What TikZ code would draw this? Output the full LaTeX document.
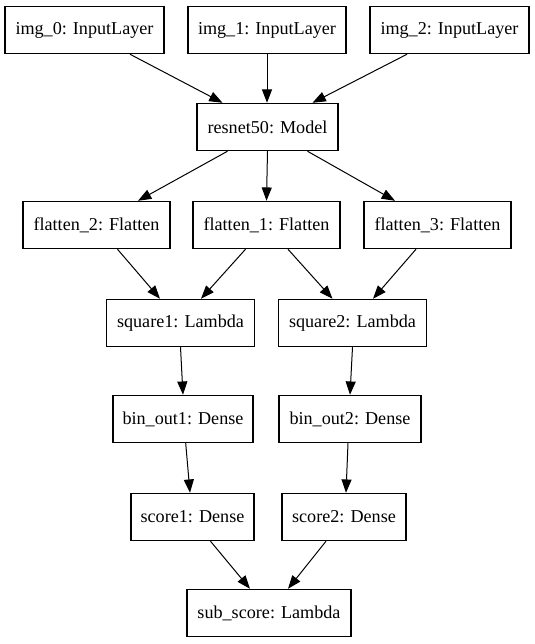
\documentclass[tikz,border=0pt]{standalone}
\usepackage{fontspec}
\setmainfont{Liberation Serif}
\usetikzlibrary{arrows.meta}
\tikzset{
  layer/.style={draw, line width=0.95pt, inner sep=0pt, minimum height=35.4pt,
    font=\fontsize{13.6}{16}\selectfont},
  w/.style={minimum width=#1*0.75pt},
  edge/.style={draw, line width=0.75pt, -{Triangle[length=10pt,width=7.5pt]}}
}
\begin{document}
\begin{tikzpicture}[x=0.75pt,y=-0.75pt]
\useasboundingbox (0,0) rectangle (535,644);
\node[layer,w=159] (i0) at (84.5,30) {img\_0: InputLayer};
\node[layer,w=158] (i1) at (267,30) {img\_1: InputLayer};
\node[layer,w=159] (i2) at (449.5,30) {img\_2: InputLayer};
\node[layer,w=141] (res) at (267.5,127) {resnet50: Model};
\node[layer,w=147] (f2) at (96.5,225) {flatten\_2: Flatten};
\node[layer,w=147] (f1) at (266.5,225) {flatten\_1: Flatten};
\node[layer,w=147] (f3) at (437.5,225) {flatten\_3: Flatten};
\node[layer,w=148] (s1) at (180.5,323) {square1: Lambda};
\node[layer,w=148] (s2) at (352.5,323) {square2: Lambda};
\node[layer,w=140] (b1) at (183,419) {bin\_out1: Dense};
\node[layer,w=142] (b2) at (350,419) {bin\_out2: Dense};
\node[layer,w=123] (c1) at (192.5,517) {score1: Dense};
\node[layer,w=124] (c2) at (344,517) {score2: Dense};
\node[layer,w=164] (sub) at (269,613) {sub\_score: Lambda};

\path[edge] ([xshift=45.5*0.75pt]i0.south) -- ([xshift=-45*0.75pt]res.north);
\path[edge] (i1.south) -- (i1.south |- res.north);
\path[edge] ([xshift=-42.5*0.75pt]i2.south) -- ([xshift=45*0.75pt]res.north);
\path[edge] ([xshift=-40*0.75pt]res.south) -- ([xshift=41.5*0.75pt]f2.north);
\path[edge] (res.south) -- (f1.north);
\path[edge] ([xshift=40*0.75pt]res.south) -- ([xshift=-42.5*0.75pt]f3.north);
\path[edge] ([xshift=21*0.75pt]f2.south) -- ([xshift=-20.5*0.75pt]s1.north);
\path[edge] ([xshift=-21*0.75pt]f1.south) -- ([xshift=20.5*0.75pt]s1.north);
\path[edge] ([xshift=21.5*0.75pt]f1.south) -- ([xshift=-20*0.75pt]s2.north);
\path[edge] ([xshift=-21.5*0.75pt]f3.south) -- ([xshift=20.5*0.75pt]s2.north);
\path[edge] (s1.south) -- (b1.north);
\path[edge] (s2.south) -- (b2.north);
\path[edge] ([xshift=2.7*0.75pt]b1.south) -- ([xshift=-2.5*0.75pt]c1.north);
\path[edge] ([xshift=-2*0.75pt]b2.south) -- ([xshift=2*0.75pt]c2.north);
\path[edge] ([xshift=18*0.75pt]c1.south) -- ([xshift=-19*0.75pt]sub.north);
\path[edge] ([xshift=-18*0.75pt]c2.south) -- ([xshift=19*0.75pt]sub.north);
\end{tikzpicture}
\end{document}
